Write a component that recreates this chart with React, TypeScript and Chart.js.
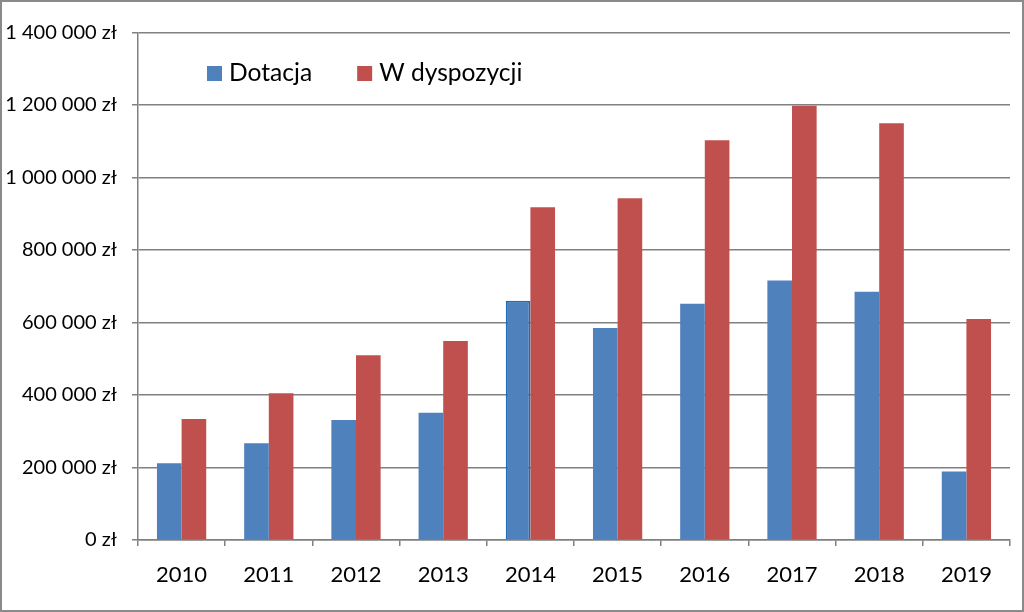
import React, { useEffect, useRef } from "react";
import { Chart, registerables } from "chart.js";

Chart.register(...registerables);

const years = ["2010", "2011", "2012", "2013", "2014", "2015", "2016", "2017", "2018", "2019"];
const dotacja = [212000, 267000, 331000, 351000, 660000, 585000, 652000, 716000, 685000, 189000];
const wDyspozycji = [334000, 405000, 510000, 549000, 918000, 943000, 1103000, 1198000, 1150000, 610000];
const seriesNames = ["Dotacja", "W dyspozycji"];
const yTicksMax = 1400000;
const yTickStep = 200000;

const BLUE = "#4F81BD";
const RED = "#C0504D";
const GRID = "#808080";
const FONT = "Lato, 'Open Sans', sans-serif";

const fmt = (v: number) =>
  String(Math.round(v)).replace(/\B(?=(\d{3})+(?!\d))/g, " ") + " zł";

const legendPlugin = {
  id: "innerLegend",
  afterDraw(chart: any) {
    const ctx = chart.ctx;
    const area = chart.chartArea;
    ctx.save();
    ctx.font = `24.6px ${FONT}`;
    ctx.textBaseline = "middle";
    ctx.textAlign = "left";
    let x = area.left + 69;
    const cy = area.top + 41;
    chart.data.datasets.forEach((ds: any) => {
      ctx.fillStyle = ds.backgroundColor;
      ctx.fillRect(x, cy - 7.5, 15, 15);
      ctx.fillStyle = "#000";
      ctx.fillText(ds.label, x + 22, cy);
      x += 22 + ctx.measureText(ds.label).width + 45;
    });
    ctx.restore();
  },
};

export default function App() {
  const ref = useRef<HTMLCanvasElement | null>(null);
  useEffect(() => {
    if (!ref.current) return;
    const chart = new Chart(ref.current, {
      type: "bar",
      data: {
        labels: years,
        datasets: [
          {
            label: seriesNames[0],
            data: dotacja,
            backgroundColor: BLUE,
            borderColor: "#1F6BB4",
            borderWidth: years.map((_, i) => (i === 4 ? 2 : 0)),
            categoryPercentage: 0.565,
            barPercentage: 1,
          },
          {
            label: seriesNames[1],
            data: wDyspozycji,
            backgroundColor: RED,
            borderWidth: 0,
            categoryPercentage: 0.565,
            barPercentage: 1,
          },
        ],
      },
      options: {
        responsive: false,
        animation: false,
        layout: { padding: { left: 0, right: 14, top: 32.5, bottom: 0 } },
        plugins: { legend: { display: false }, tooltip: { enabled: false } },
        scales: {
          x: {
            afterFit: (s: any) => {
              s.height = 72;
            },
            grid: {
              display: true,
              drawOnChartArea: false,
              drawTicks: true,
              tickLength: 6,
              color: GRID,
              lineWidth: 1.5,
              offset: true,
            },
            border: { display: true, color: GRID, width: 1.5 },
            ticks: {
              color: "#000",
              padding: 16,
              font: { family: FONT, size: 22 },
            },
          },
          y: {
            min: 0,
            max: yTicksMax,
            afterFit: (s: any) => {
              s.width = 138;
            },
            grid: {
              color: GRID,
              lineWidth: 1.5,
              tickLength: 6,
              drawTicks: true,
            },
            border: { display: true, color: GRID, width: 1.5 },
            ticks: {
              stepSize: yTickStep,
              color: "#000",
              padding: 15,
              font: { family: FONT, size: 20 },
              callback: (v: any) => fmt(Number(v)),
            },
          },
        },
      },
      plugins: [legendPlugin],
    });
    return () => chart.destroy();
  }, []);
  return (
    <div style={{ position: "fixed", left: 0, top: 0, width: 1024, height: 612, background: "#fff" }}>
      <canvas
        ref={ref}
        width={1024}
        height={612}
        style={{ display: "block", outline: "2px solid #8a8a8a", outlineOffset: -2 }}
      />
    </div>
  );
}
